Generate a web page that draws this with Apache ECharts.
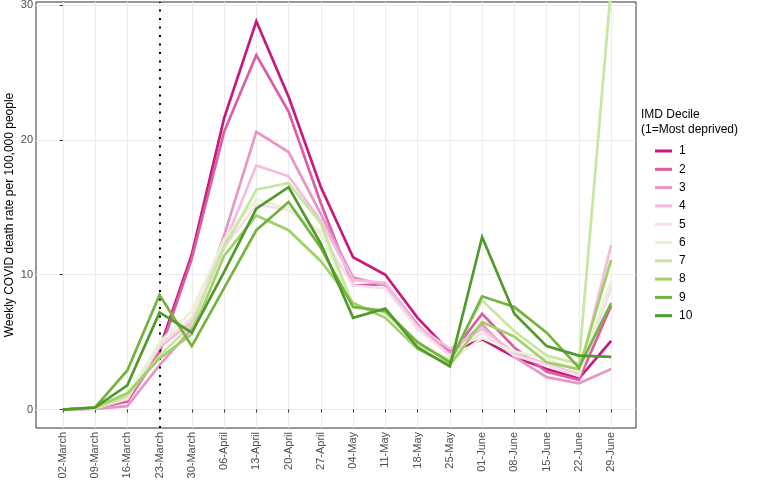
<!DOCTYPE html>
<html>
<head>
<meta charset="utf-8">
<script src="https://cdn.jsdelivr.net/npm/echarts@6/dist/echarts.min.js"></script>
<style>html,body{margin:0;padding:0;background:#fff}#c{width:760px;height:489px}</style>
</head>
<body>
<div id="c"></div>
<script>
const categories = ['02-March','09-March','16-March','23-March','30-March','06-April','13-April','20-April','27-April','04-May','11-May','18-May','25-May','01-June','08-June','15-June','22-June','29-June'];
const yTicks = [0, 10, 20, 30];
const lockdownWeek = '23-March';
const deciles = ['1','2','3','4','5','6','7','8','9','10'];
const d1  = [0, 0.1, 0.7, 4.5, 11.5, 21.6, 28.8, 23.2, 16.5, 11.3, 10.0, 6.8, 4.3, 5.2, 3.9, 3.0, 2.3, 5.1];
const d2  = [0, 0.1, 0.6, 4.2, 11.2, 20.6, 26.3, 22.1, 15.3, 9.2, 9.3, 6.3, 4.0, 7.1, 4.6, 2.8, 2.2, 7.7];
const d3  = [0, 0.05, 0.25, 3.3, 6.0, 12.9, 20.6, 19.1, 14.5, 9.8, 9.2, 6.0, 4.2, 6.3, 3.9, 2.4, 1.95, 3.0];
const d4  = [0, 0.1, 0.8, 4.6, 6.5, 12.2, 18.1, 17.3, 14.0, 9.6, 9.4, 6.2, 4.5, 6.0, 4.2, 3.4, 2.6, 12.2];
const d5  = [0, 0.1, 0.8, 4.8, 6.8, 12.0, 15.2, 14.8, 13.0, 9.2, 9.0, 6.0, 4.0, 5.7, 4.0, 3.3, 2.5, 9.0];
const d6  = [0, 0.1, 1.0, 5.0, 7.3, 12.6, 15.6, 14.9, 13.2, 7.6, 7.4, 5.0, 3.6, 5.3, 4.3, 3.8, 2.8, 9.5];
const d7  = [0, 0.1, 1.0, 4.0, 6.3, 12.0, 16.3, 16.8, 13.8, 7.7, 7.2, 4.8, 3.7, 8.1, 5.8, 4.0, 3.4, 31.4];
const d8  = [0, 0.15, 1.2, 3.8, 5.6, 11.4, 14.4, 13.3, 11.0, 7.9, 6.8, 4.5, 3.3, 6.5, 5.4, 3.5, 3.0, 11.1];
const d9  = [0, 0.15, 2.9, 8.5, 4.7, 9.0, 13.3, 15.4, 12.0, 7.6, 7.3, 5.0, 3.5, 8.4, 7.6, 5.7, 3.1, 7.9];
const d10 = [0, 0.15, 1.8, 7.2, 5.7, 10.2, 14.9, 16.5, 12.3, 6.8, 7.5, 4.6, 3.2, 12.8, 7.1, 4.7, 4.0, 3.9];
const values = [d1, d2, d3, d4, d5, d6, d7, d8, d9, d10];
const colors = ['#C8197E','#DA5FA2','#E697C6','#F3BCDC','#F8DDEB','#E7F3D4','#C7E69F','#A0D166','#74B43E','#4F9A2A'];

const chart = echarts.init(document.getElementById('c'), null, {renderer: 'canvas'});
const FONT = 'Liberation Sans, Arial, sans-serif';
const series = deciles.map((name, k) => ({
  type: 'line',
  name: name,
  data: values[k].map((v, i) => [i, v]),
  showSymbol: false,
  symbol: 'none',
  clip: true,
  z: 2 + k,
  lineStyle: {width: 2.7, color: colors[k], cap: 'butt', join: 'miter'},
  itemStyle: {color: colors[k]},
  emphasis: {disabled: true}
}));
series[series.length - 1].markLine = {
  silent: true,
  symbol: ['none', 'none'],
  label: {show: false},
  lineStyle: {color: '#000', width: 2, type: [2, 6.5], cap: 'butt'},
  data: [{xAxis: categories.indexOf(lockdownWeek)}]
};

chart.setOption({
  animation: false,
  backgroundColor: '#fff',
  textStyle: {fontFamily: FONT},
  grid: {left: 36, top: 2, right: 124, bottom: 61, show: true, borderColor: '#333', borderWidth: 1, containLabel: false, outerBoundsMode: 'none'},
  title: {
    text: 'IMD Decile\n(1=Most deprived)',
    left: 641, top: 107, padding: 0,
    textStyle: {fontFamily: FONT, fontSize: 12, fontWeight: 'normal', color: '#000', lineHeight: 15}
  },
  legend: {
    orient: 'vertical',
    left: 655, top: 144, padding: 0,
    itemWidth: 17, itemHeight: 3,
    itemGap: 4.3,
    icon: 'rect',
    textStyle: {fontFamily: FONT, fontSize: 12, color: '#000', lineHeight: 14, padding: [0,0,0,2]},
    data: deciles
  },
  xAxis: {
    type: 'value',
    min: -0.83, max: 17.77,
    splitNumber: 37,
    axisLine: {show: false},
    axisTick: {show: true, length: 3, lineStyle: {color: '#333'}, customValues: categories.map((c, i) => i)},
    axisLabel: {
      customValues: categories.map((c, i) => i),
      formatter: v => categories[Math.round(v)] || '',
      rotate: 90, margin: 4, color: '#4D4D4D', fontSize: 11, fontFamily: FONT
    },
    splitLine: {show: true, lineStyle: {color: '#EBEBEB', width: 1}}
  },
  yAxis: {
    type: 'value',
    min: -1.37, max: 30.23,
    splitNumber: 6,
    name: 'Weekly COVID death rate per 100,000 people',
    nameLocation: 'middle',
    nameGap: 20,
    nameMoveOverlap: false,
    nameTextStyle: {fontFamily: FONT, fontSize: 12, color: '#000'},
    axisLine: {show: false},
    axisTick: {show: true, length: 3, lineStyle: {color: '#333'}, customValues: yTicks},
    axisLabel: {customValues: yTicks, margin: 3, color: '#4D4D4D', fontSize: 11, fontFamily: FONT},
    splitLine: {show: true, lineStyle: {color: '#EBEBEB', width: 1}}
  },
  series: series
});
</script>
</body>
</html>
